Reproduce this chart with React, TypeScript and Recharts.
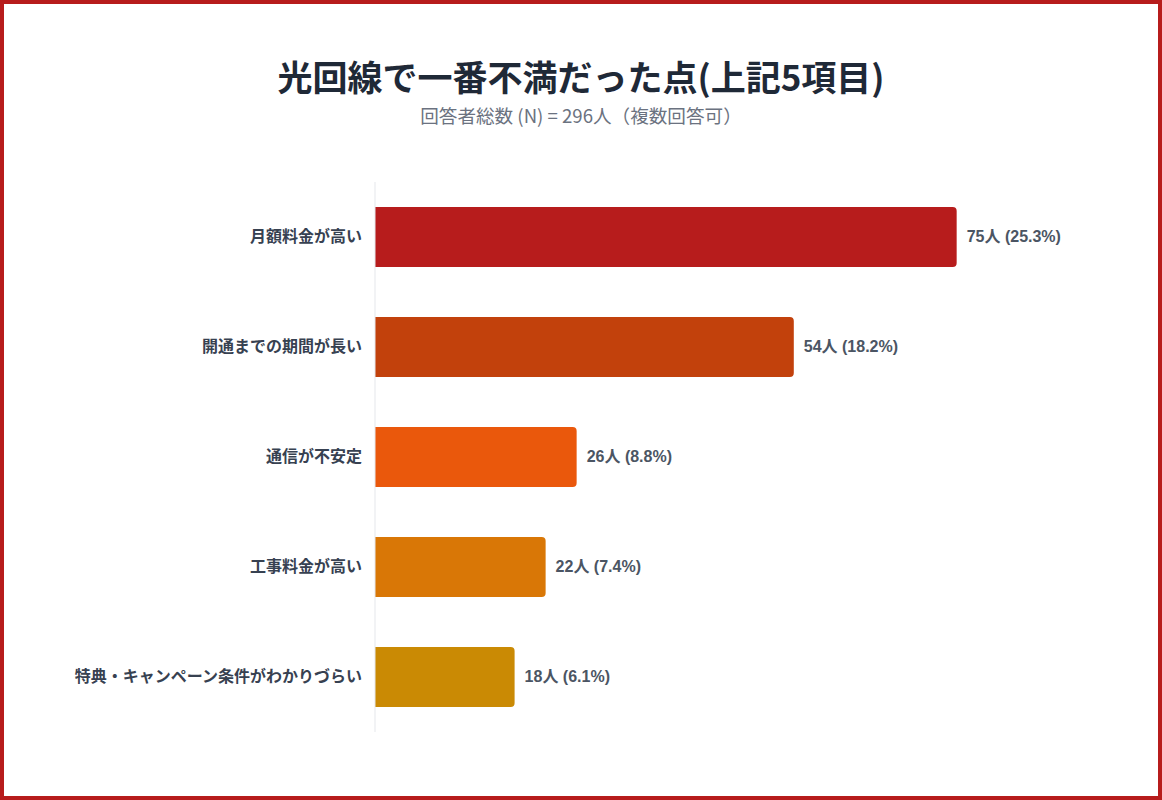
import { Bar, BarChart, Cell, LabelList, XAxis, YAxis } from "recharts";

const categories = [
  "月額料金が高い",
  "開通までの期間が長い",
  "通信が不安定",
  "工事料金が高い",
  "特典・キャンペーン条件がわかりづらい",
];
const counts = [75, 54, 26, 22, 18];
const percents = [25.3, 18.2, 8.8, 7.4, 6.1];
const barColors = ["#b71c1c", "#c2410c", "#ea580c", "#d97706", "#ca8a04"];

const data = categories.map((name, i) => ({
  name,
  count: counts[i],
  pct: percents[i],
}));

const JP = '"Noto Sans CJK JP", "Noto Sans", sans-serif';

function CategoryTick({ x, y, payload }: any) {
  return (
    <text
      x={x - 5}
      y={y}
      dy={5}
      textAnchor="end"
      fontFamily={JP}
      fontSize={16}
      fontWeight={700}
      fill="#374151"
    >
      {payload.value}
    </text>
  );
}

export default function App() {
  return (
    <div
      style={{
        position: "absolute",
        top: 0,
        left: 0,
        width: 1162,
        height: 800,
        boxSizing: "border-box",
        border: "4px solid #b71c1c",
        background: "#ffffff",
      }}
    >
      <div
        style={{
          position: "absolute",
          top: 49,
          left: 0,
          width: 1154,
          textAlign: "center",
          fontFamily: JP,
          fontWeight: 700,
          fontSize: 35,
          lineHeight: "46px",
          color: "#1f2937",
        }}
      >
        光回線で一番不満だった点(上記5項目)
      </div>
      <div
        style={{
          position: "absolute",
          top: 98,
          left: 0,
          width: 1154,
          textAlign: "center",
          fontFamily: JP,
          fontSize: 18.6,
          lineHeight: "26px",
          color: "#6b7280",
        }}
      >
        回答者総数 (N) = 296人（複数回答可）
      </div>
      <div style={{ position: "absolute", top: 0, left: 0 }}>
        <BarChart
          width={1154}
          height={792}
          data={data}
          layout="vertical"
          margin={{ top: 178, right: 85, bottom: 64, left: 71 }}
        >
          <XAxis type="number" domain={[0, 90]} hide />
          <YAxis
            type="category"
            dataKey="name"
            width={300}
            axisLine={{ stroke: "#e5e7eb" }}
            tickLine={false}
            tick={<CategoryTick />}
          />
          <Bar
            dataKey="count"
            barSize={60}
            radius={[0, 4, 4, 0]}
            isAnimationActive={false}
          >
            {data.map((d, i) => (
              <Cell key={d.name} fill={barColors[i]} />
            ))}
            <LabelList
              dataKey="count"
              position="right"
              offset={10}
              content={(props: any) => {
                const { x, y, width, height, index } = props;
                const d = data[index];
                return (
                  <text
                    x={x + width + 10}
                    y={y + height / 2}
                    dy={5}
                    fontFamily={'"Liberation Sans", "Noto Sans CJK JP", sans-serif'}
                    fontSize={16}
                    fontWeight={700}
                    fill="#4b5563"
                  >
                    {`${d.count}人 (${d.pct}%)`}
                  </text>
                );
              }}
            />
          </Bar>
        </BarChart>
      </div>
    </div>
  );
}
